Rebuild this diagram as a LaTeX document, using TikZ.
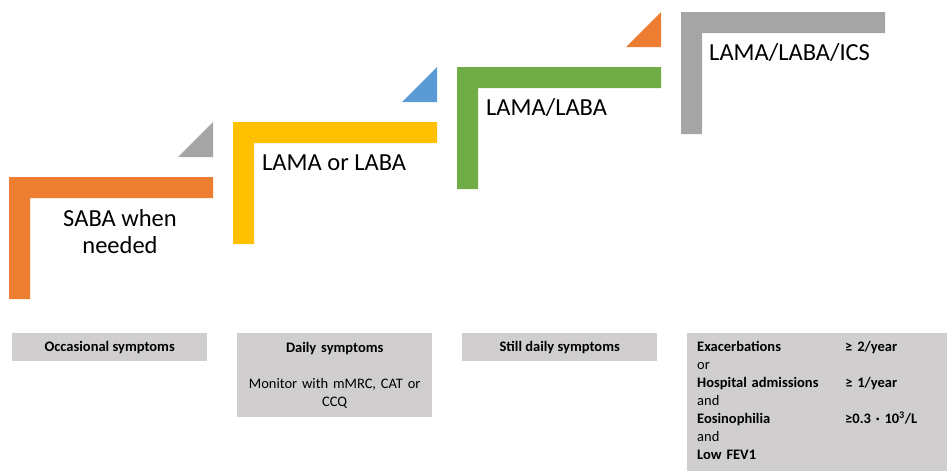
\documentclass[tikz,border=0pt]{standalone}
\usepackage{fontspec}
\setmainfont{Carlito}
\usetikzlibrary{positioning}
\definecolor{stepOrange}{HTML}{ED7D31}
\definecolor{stepYellow}{HTML}{FFC000}
\definecolor{stepBlue}{HTML}{5B9BD5}
\definecolor{stepGreen}{HTML}{70AD47}
\definecolor{stepGray}{HTML}{A5A5A5}
\definecolor{boxGray}{HTML}{D0CECE}
% one step of the ladder: top-left corner x, y, colour
\newcommand{\ladderstep}[3]{%
  \fill[#3] (#1,#2) -- ++(204,0) -- ++(0,21) -- ++(-183,0) -- ++(0,101) -- ++(-21,0) -- cycle;}
% small corner triangle above the right end of a step
\newcommand{\steptip}[3]{%
  \fill[#3] (#1+204,#2-20) -- ++(0,-35) -- ++(-35,35) -- cycle;}

\begin{document}
\begin{tikzpicture}[
  x=1pt,y=-1pt,
  font=\fontsize{14.5}{18}\selectfont,
  drug/.style={font=\fontsize{24.5}{27}\selectfont,inner sep=0pt},
  crit/.style={fill=boxGray,inner sep=0pt,minimum width=195pt,align=center},
]
\useasboundingbox (0,0) rectangle (947,471);
\ladderstep{9}{177}{stepOrange}
\steptip{9}{177}{stepGray}
\ladderstep{233}{122}{stepYellow}
\steptip{233}{122}{stepBlue}
\ladderstep{457}{67}{stepGreen}
\steptip{457}{67}{stepOrange}
\ladderstep{681}{12}{stepGray}

\node[drug,align=center,anchor=base] (saba) at (120,253) {SABA when\\needed};
\node[drug,anchor=base west] (lamaorlaba) at (262,170) {LAMA or LABA};
\node[drug,anchor=base west] (lamalaba) at (486,115) {LAMA/LABA};
\node[drug,anchor=base west] (lamalabaics) at (709,60) {LAMA/LABA/ICS};

\node[crit,minimum height=28pt,anchor=north west] (occ) at (12,333) {\textbf{Occasional symptoms}};
\node[crit,minimum height=84pt,text width=185pt,anchor=north west] (daily) at (237,333)
  {\textbf{Daily symptoms}\\[18pt]Monitor with mMRC, CAT or\\CCQ};
\node[crit,minimum height=28pt,anchor=north west] (still) at (462,333) {\textbf{Still daily symptoms}};
\node[crit,minimum height=138pt,inner xsep=10pt,text width=240pt,anchor=north west,align=left] (exac) at (687,333)
  {\begin{tabular}{@{}p{148pt}@{}l@{}}
   \textbf{Exacerbations} & \textbf{≥ 2/year}\\
   or & \\
   \textbf{Hospital admissions} & \textbf{≥ 1/year}\\
   and & \\
   \textbf{Eosinophilia} & \textbf{≥0.3 · 10\textsuperscript{3}/L}\\
   and & \\
   \textbf{Low FEV1} &
   \end{tabular}};
\end{tikzpicture}
\end{document}
